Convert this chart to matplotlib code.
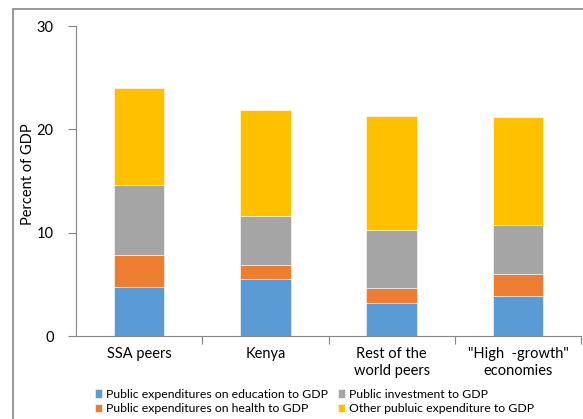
import matplotlib
matplotlib.use("Agg")
import matplotlib.pyplot as plt
from matplotlib.patches import Rectangle

categories = ["SSA peers", "Kenya", "Rest of the\nworld peers", "\"High  -growth\"\neconomies"]
education = [4.7, 5.55, 3.2, 3.9]
health = [3.1, 1.35, 1.4, 2.1]
investment = [6.8, 4.75, 5.66, 4.7]
other = [9.4, 10.25, 11.04, 10.5]
series_names = ["Public expenditures on education to GDP",
                "Public expenditures on health to GDP",
                "Public investment to GDP",
                "Other publuic expenditure to GDP"]
colors = ["#5B9BD5", "#ED7D31", "#A5A5A5", "#FFC000"]
yticks = [0, 10, 20, 30]

plt.rcParams['font.family'] = ['Lato', 'DejaVu Sans']

W, H = 583, 419
fig = plt.figure(figsize=(W / 100, H / 100), dpi=100)
ax = fig.add_axes([76 / W, 1 - 336 / H, (581 - 76) / W, (336 - 26) / H])

x = list(range(len(categories)))
bottom = [0.0] * len(categories)
for vals, name, c in zip([education, health, investment, other], series_names, colors):
    ax.bar(x, vals, width=0.4, bottom=bottom, color=c, label=name,
           edgecolor="white", linewidth=0.4)
    bottom = [b + v for b, v in zip(bottom, vals)]

ax.set_xlim(-0.5, 3.5)
ax.set_ylim(0, 30)
ax.set_yticks(yticks)
ax.set_yticklabels([str(t) for t in yticks], fontsize=10.5)
ax.set_xticks(x)
ax.set_xticklabels(categories, fontsize=10.5, linespacing=1.25)
ax.tick_params(axis='x', which='major', length=0, pad=8)
ax.set_xticks([0.5, 1.5, 2.5, 3.5], minor=True)
ax.tick_params(axis='x', which='minor', length=6, color="#868686", width=0.8)
ax.tick_params(axis='y', length=6, color="#868686", width=0.8, pad=10)
for s in ["top", "right"]:
    ax.spines[s].set_visible(False)
for s in ["left", "bottom"]:
    ax.spines[s].set_color("#868686")
    ax.spines[s].set_linewidth(0.8)
ax.set_ylabel("Percent of GDP", fontsize=10.5)
ax.yaxis.set_label_coords(35 / W, 1 - 174 / H, transform=fig.transFigure)

ax.legend(ncol=2, loc="upper left", bbox_to_anchor=(95 / W, 1 - 389 / H),
          bbox_transform=fig.transFigure, frameon=False, fontsize=8.8,
          handlelength=0.6, handleheight=0.7, handletextpad=0.3,
          columnspacing=0.8, labelspacing=0.25, borderaxespad=0, borderpad=0)

fig.patches.append(Rectangle((13 / W, -0.1), 1.2, 1.1 - 9 / H, transform=fig.transFigure,
                             fill=False, edgecolor="#888888", linewidth=1.2))

fig.savefig("out.png", dpi=100)
